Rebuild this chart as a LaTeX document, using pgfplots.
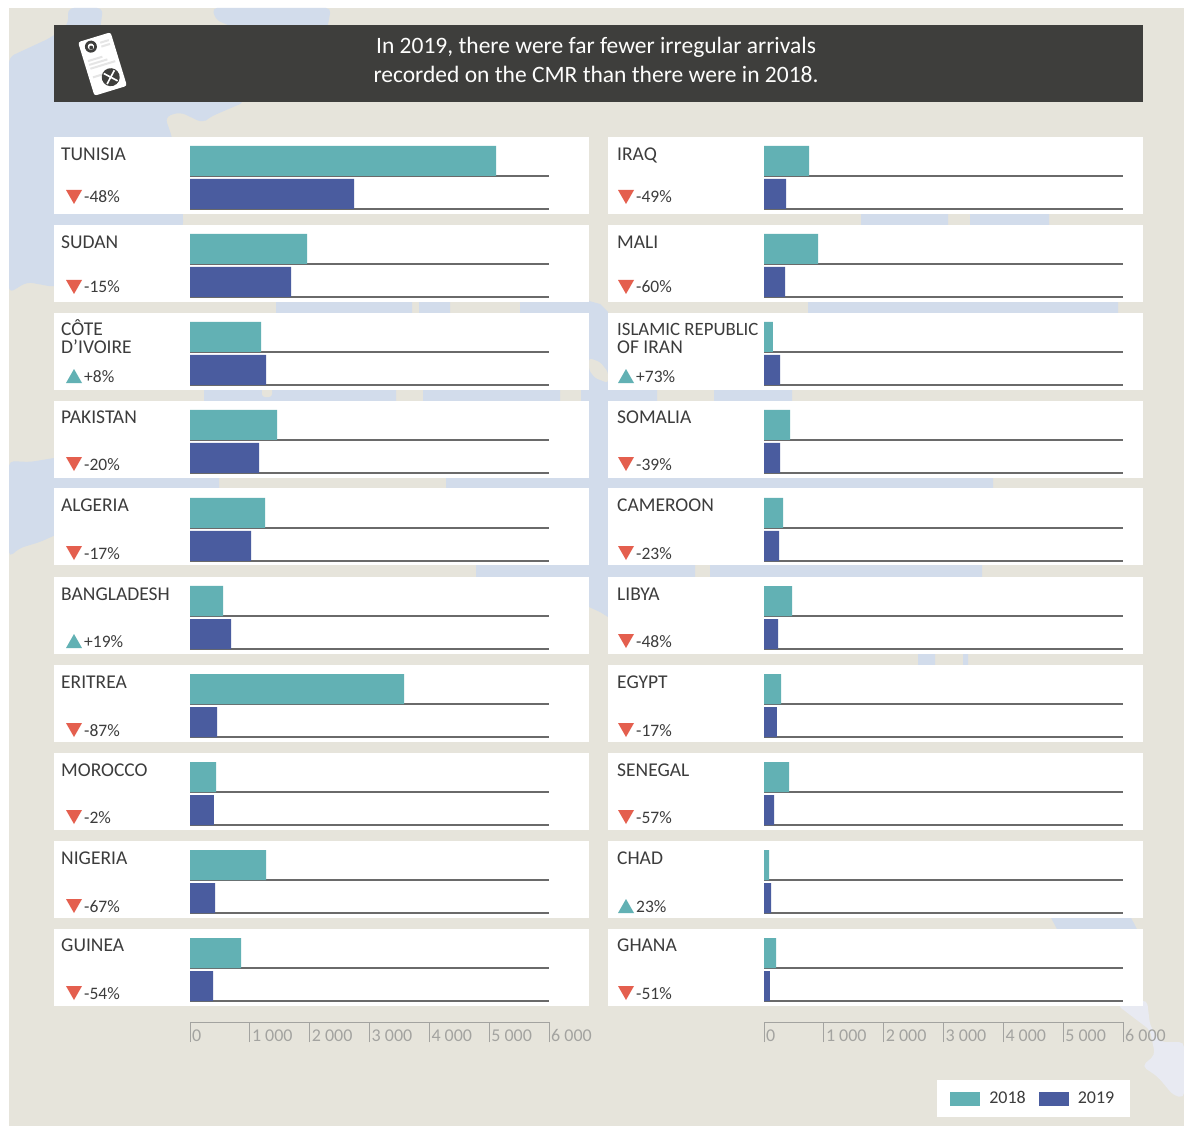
\documentclass[border=0pt]{standalone}
\usepackage{pgfplots}
\pgfplotsset{compat=1.18}
\usepackage{pgfplotstable}
\usepackage{fontspec}
\setmainfont{Carlito}
\definecolor{beige}{HTML}{E6E4DB}
\definecolor{sea}{HTML}{D2DCEB}
\definecolor{sealight}{HTML}{E8EAF2}
\definecolor{head}{HTML}{3E3E3C}
\definecolor{teal18}{HTML}{62B1B4}
\definecolor{blue19}{HTML}{4A5C9F}
\definecolor{redd}{HTML}{E45F4E}
\definecolor{txt}{HTML}{3C3C3C}
\definecolor{axisg}{HTML}{A3A3A0}
\definecolor{baseg}{HTML}{6A6A6A}

\pgfplotstableread{
row v2018 v2019
9 5117 2742
8 1957 1689
7 1187 1271
6 1455 1154
5 1254 1020
4 552 686
3 3579 452
2 435 401
1 1271 418
0 853 385
}\leftdata
\pgfplotstableread{
row v2018 v2019
9 752 368
8 903 351
7 150 268
6 435 268
5 318 251
4 468 234
3 284 217
2 418 167
1 84 117
0 201 100
}\rightdata

\pgfplotsset{
  panelaxis/.style={
    scale only axis, width=359pt, height=885pt,
    xmin=0, xmax=6000, ymin=-0.5966, ymax=9.4602,
    anchor=south west,
    bar width=30pt,
    axis y line=none, axis x line*=bottom,
    x axis line style={draw=axisg, line width=1pt},
    xtick={0,1000,2000,3000,4000,5000,6000},
    xticklabels={0,1 000,2 000,3 000,4 000,5 000,6 000},
    xtick style={draw=axisg, line width=1pt},
    tick align=outside, major tick length=20pt,
    xticklabel style={anchor=base west, font=\fontsize{18}{20}\selectfont, text=axisg, inner xsep=2pt, yshift=1pt},
    clip=false,
  },
}
\newcommand{\baselines}{%
  \pgfplotsinvokeforeach{0,...,9}{%
    \addplot[forget plot, no marks, baseg, line width=1.3pt] coordinates {(0,##1+0.017) (6000,##1+0.017)};
    \addplot[forget plot, no marks, baseg, line width=1.3pt] coordinates {(0,##1-0.358) (6000,##1-0.358)};
  }%
}
% panel x, panel top, name baseline, name x, triangle x, triangle top, name, dir, pct
\newcommand{\Row}[9]{%
  \fill[white] (#1,#2) rectangle ++(535,77);
  \node[anchor=base west,inner sep=0,text=txt,font=\fontsize{19.5}{20}\selectfont] at (#4,#3) {#7};
  \ifnum#8=0
    \fill[redd] (#5,#6) -- ++(16,0) -- ++(-8,14) -- cycle;
  \else
    \fill[teal18] (#5,#6+14) -- ++(16,0) -- ++(-8,-14) -- cycle;
  \fi
  \node[anchor=base west,inner sep=0,text=txt,font=\fontsize{17.5}{20}\selectfont] at (#5+18,#6+13) {#9};
}
\newcommand{\Extra}[3]{\node[anchor=base west,inner sep=0,text=txt,font=\fontsize{19.5}{20}\selectfont] at (#1,#2) {#3};}
\newcommand{\blob}[4]{\fill[sea,rounded corners=3pt] (#1,#3) rectangle (#2,#4);}
\begin{document}
\begin{tikzpicture}
\begin{scope}[x=1pt,y=-1pt]
  \fill[white] (0,0) rectangle (1184,1126);
  \fill[beige] (9,8) rectangle (1184,1126);
  % sea shapes behind the panels
  \fill[sea,rounded corners=6pt] (9,57) -- (50,38) -- (68,25) -- (68,8) -- (103,8) -- (100,30) -- (245,102)
     -- (210,117) -- (203,123) -- (180,112) -- (165,117) -- (172,137) -- (183,214) -- (183,228) -- (160,260)
     -- (54,287) -- (27,282) -- (9,293) -- cycle;
  \fill[sea,rounded corners=5pt] (212,8) -- (216,20) -- (240,30) -- (327,30) -- (331,8) -- cycle;
  \blob{276}{412}{296}{320}\blob{419}{450}{296}{320}\blob{520}{589}{296}{320}\blob{808}{1118}{296}{320}
  \blob{204}{396}{385}{406}\blob{423}{560}{385}{406}\blob{581}{657}{385}{406}\blob{714}{792}{385}{406}
  \fill[beige,rounded corners=3pt] (262,385) rectangle (272,397);
  \blob{54}{219}{474}{492}\blob{446}{993}{474}{492}
  \blob{476}{695}{560}{582}\blob{710}{982}{560}{582}
  \blob{918}{935}{650}{670}\blob{963}{968}{650}{670}
  \blob{861}{948}{208}{230}\blob{970}{1049}{208}{230}
  \fill[sea] (589,301) -- (600,304) -- (608,312) -- (608,617) -- (600,612) -- (589,607) -- cycle;
  \fill[beige,rounded corners=3pt] (589,358) -- (600,362) -- (608,372) -- (608,383) -- (595,378) -- (589,370) -- cycle;
  \fill[sea,rounded corners=5pt] (9,461) -- (30,462) -- (60,457) -- (60,533) -- (40,542) -- (20,548) -- (9,557) -- cycle;
  \fill[sea,rounded corners=4pt] (1047,910) -- (1127,910) -- (1140,935) -- (1060,935) -- cycle;
  \fill[sealight,rounded corners=5pt] (1117,1005) -- (1147,1000) -- (1150,1025) -- (1160,1042) -- (1184,1042) -- (1184,1098) -- (1173,1095) -- (1158,1077) -- (1142,1066) -- (1155,1055) -- (1150,1030) -- cycle;
  % header
  \fill[head] (54,25) rectangle (1143,102);
  \begin{scope}[shift={(102.5,64)},rotate=17]
    \fill[white,rounded corners=2.5pt] (-17,-28) rectangle (17,28);
    \fill[head] (-6,-20) circle (6);
    \fill[white] (-6,-20) circle (3.2);
    \fill[head] (-6,-19) circle (2);
    \fill[black!10] (4,-22) rectangle (13,-20);
    \fill[black!10] (4,-18) rectangle (13,-16);
    \fill[black!10] (-13,-8) rectangle (2,-6);
    \fill[black!10] (-13,-4) rectangle (6,-2);
    \fill[black!10] (-13,0) rectangle (13,2);
    \fill[black!10] (-13,9) rectangle (-3,11);
    \fill[head] (4,15) circle (9);
    \draw[white,line width=1.6pt] (-1.5,9.5) -- (9.5,20.5) (9.5,9.5) -- (-1.5,20.5);
  \end{scope}
  \node[anchor=base,inner sep=0,text=white!92!beige,font=\fontsize{23.5}{26}\selectfont] at (596,54) {In 2019, there were far fewer irregular arrivals};
  \node[anchor=base,inner sep=0,text=white!92!beige,font=\fontsize{23.5}{26}\selectfont] at (596,83) {recorded on the CMR than there were in 2018.};
  % panels left
  \Row{54}{137}{161}{61}{66}{190}{TUNISIA}{0}{-48\%}
  \Row{54}{225}{249}{61}{66}{280}{SUDAN}{0}{-15\%}
  \Row{54}{313}{335}{61}{66}{369}{CÔTE}{1}{+8\%}
  \Extra{61}{353}{D’IVOIRE}
  \Row{54}{401}{423}{61}{66}{457}{PAKISTAN}{0}{-20\%}
  \Row{54}{488}{511}{61}{66}{546}{ALGERIA}{0}{-17\%}
  \Row{54}{577}{600}{61}{66}{634}{BANGLADESH}{1}{+19\%}
  \Row{54}{665}{688}{61}{66}{723}{ERITREA}{0}{-87\%}
  \Row{54}{753}{776}{61}{66}{810}{MOROCCO}{0}{-2\%}
  \Row{54}{841}{864}{61}{66}{899}{NIGERIA}{0}{-67\%}
  \Row{54}{929}{951}{61}{66}{986}{GUINEA}{0}{-54\%}
  % panels right
  \Row{608}{137}{161}{617}{618}{190}{IRAQ}{0}{-49\%}
  \Row{608}{225}{249}{617}{618}{280}{MALI}{0}{-60\%}
  \Row{608}{313}{335}{617}{618}{369}{\fontsize{18.8}{20}\selectfont ISLAMIC REPUBLIC}{1}{+73\%}
  \Extra{617}{353}{OF IRAN}
  \Row{608}{401}{423}{617}{618}{457}{SOMALIA}{0}{-39\%}
  \Row{608}{488}{511}{617}{618}{546}{CAMEROON}{0}{-23\%}
  \Row{608}{577}{600}{617}{618}{634}{LIBYA}{0}{-48\%}
  \Row{608}{665}{688}{617}{618}{723}{EGYPT}{0}{-17\%}
  \Row{608}{753}{776}{617}{618}{810}{SENEGAL}{0}{-57\%}
  \Row{608}{841}{864}{617}{618}{899}{CHAD}{1}{23\%}
  \Row{608}{929}{951}{617}{618}{986}{GHANA}{0}{-51\%}
\end{scope}

\begin{axis}[panelaxis, at={(190pt,-1022pt)}]
  \baselines
  \addplot[xbar, bar shift=16.5pt, fill=teal18, draw=none] table[x=v2018,y=row] {\leftdata};
  \addplot[xbar, bar shift=-16.5pt, fill=blue19, draw=none] table[x=v2019,y=row] {\leftdata};
\end{axis}
\begin{axis}[panelaxis, at={(764pt,-1022pt)},
  legend style={at={(1.0195,-0.0655)}, anchor=north east, draw=none, fill=white,
    legend columns=2, font=\fontsize{18}{20}\selectfont, text=txt,
    inner xsep=13.5pt, inner ysep=9.5pt,
    /tikz/every even column/.style={column sep=11pt},
    /tikz/every odd column/.style={column sep=7pt}},
  legend image code/.code={\path (0pt,-7pt) rectangle (30pt,7pt); \fill[#1] (5pt,-7pt) rectangle (30pt,7pt);},
]
  \baselines
  \addplot[xbar, bar shift=16.5pt, fill=teal18, draw=none] table[x=v2018,y=row] {\rightdata};
  \addplot[xbar, bar shift=-16.5pt, fill=blue19, draw=none] table[x=v2019,y=row] {\rightdata};
  \legend{2018,2019}
\end{axis}
\end{tikzpicture}
\end{document}
